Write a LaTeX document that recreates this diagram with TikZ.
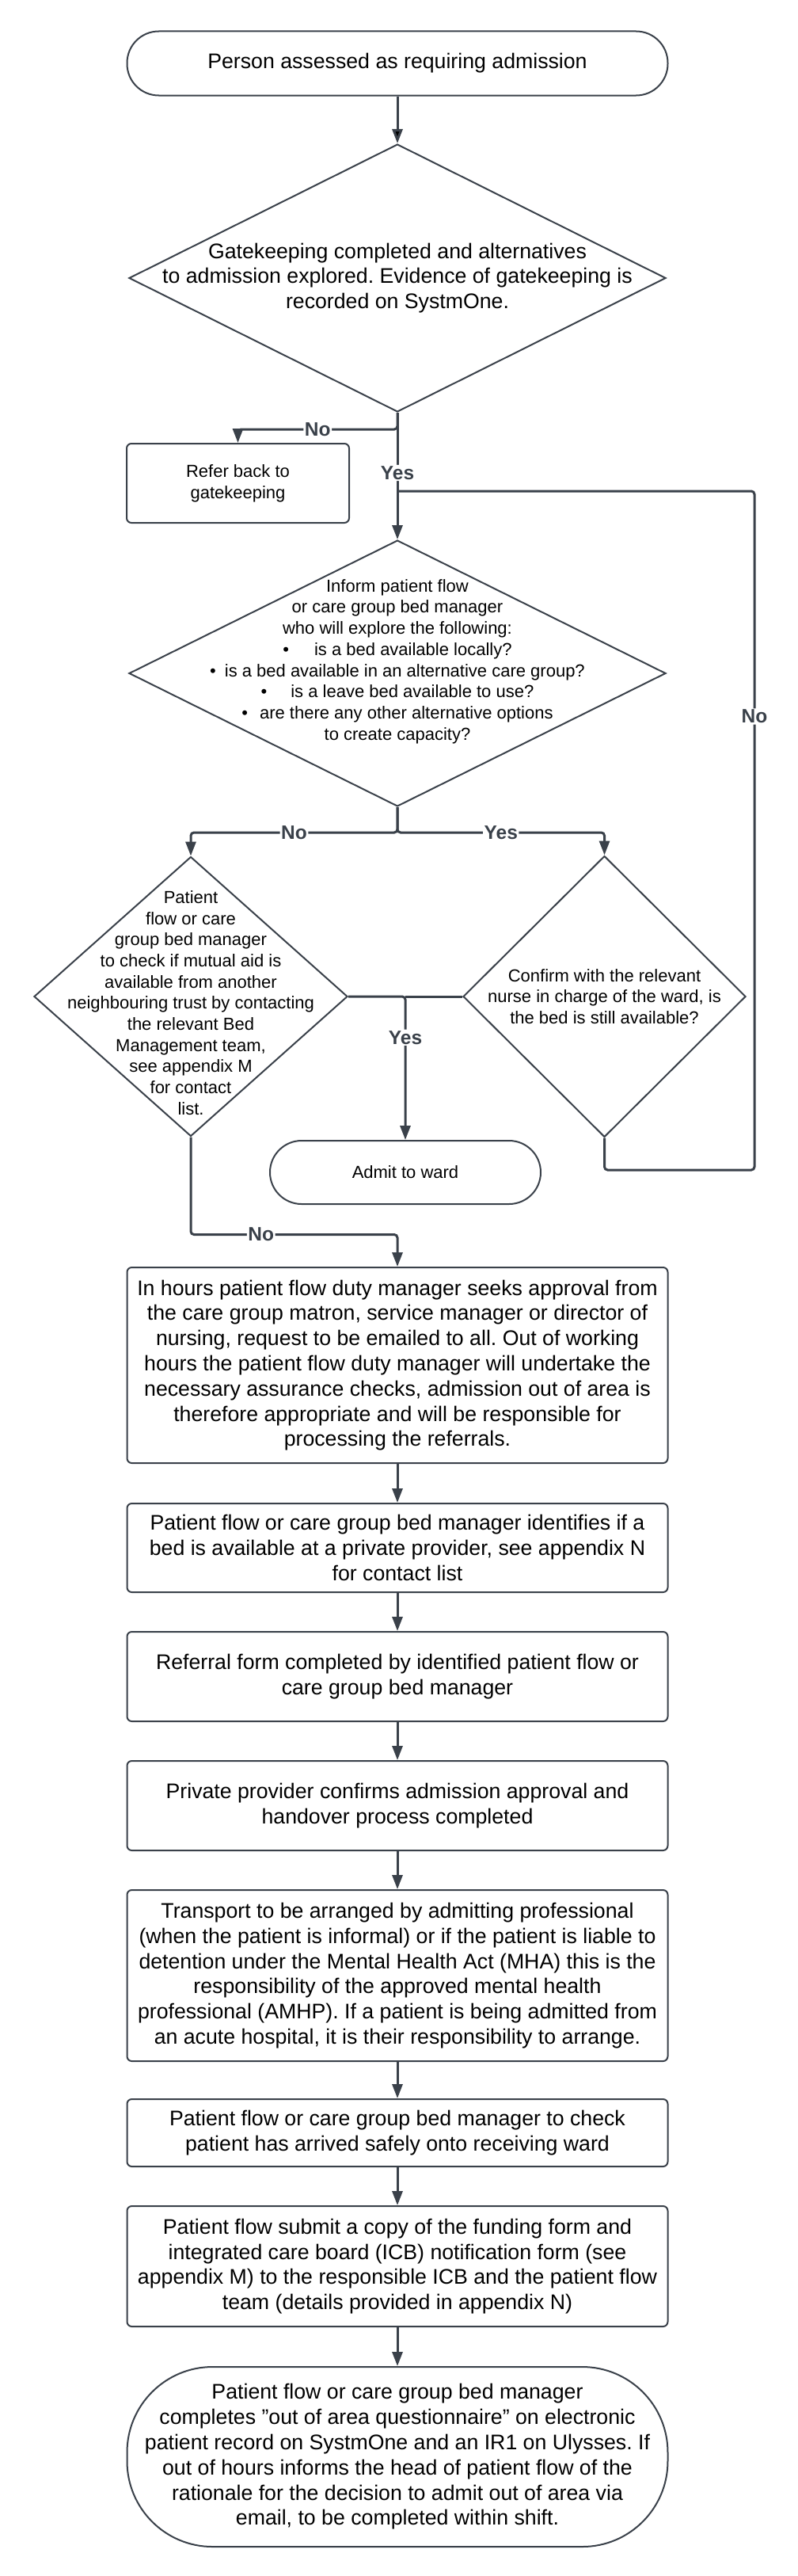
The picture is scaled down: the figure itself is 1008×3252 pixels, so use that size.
\documentclass[tikz,border=0pt]{standalone}
\usepackage{fontspec}
\setmainfont{Liberation Sans}
\usepackage{tikz}
\usetikzlibrary{shapes.geometric}
\usetikzlibrary{positioning}
\usetikzlibrary{arrows.meta}
\definecolor{linegray}{HTML}{3A414A}
\frenchspacing
\newcommand{\bigtxt}{\fontsize{26.7pt}{31.8pt}\selectfont}
\newcommand{\smalltxt}{\fontsize{22pt}{26.7pt}\selectfont}
\newcommand{\lbltxt}{\fontsize{24.5pt}{28pt}\selectfont\bfseries}

\begin{document}
\begin{tikzpicture}[
            x = 1pt, y = -1pt, % pixel grid, y grows downwards
            > = {Triangle[length=18pt,width=13pt]} % arrow head style
        ]

        \tikzstyle{process}=[
            draw = linegray,
            line width = 2pt,
            rounded corners = 6pt,
            minimum width = 683pt,
            align = center,
            font = \bigtxt
        ]
        \tikzstyle{terminal}=[process]
        \tikzstyle{decision}=[
            draw = linegray,
            line width = 2pt,
            diamond,
            inner sep = 0pt
        ]
        \tikzstyle{dtext}=[font=\smalltxt, align=center, inner sep=0pt]
        \tikzstyle{lbl}=[font=\lbltxt, text=linegray, fill=white, inner sep=1.5pt]
        \tikzstyle{link}=[draw=linegray, line width=3pt, rounded corners=4pt]

        \useasboundingbox (0,0) rectangle (1008,3252);

        % admission and gatekeeping
        \node[terminal, minimum height=81pt, rounded corners=40pt] (S) at (502,80) {Person assessed as requiring admission};
        \node[decision, minimum width=678pt, minimum height=338pt, node distance=271pt,
              label={[dtext, font=\bigtxt]center:{Gatekeeping completed and alternatives\\to admission explored. Evidence of gatekeeping is\\recorded on SystmOne.}}] (G) [below of=S] {};
        \node[process, font=\smalltxt, minimum width=281pt, minimum height=100pt] (R) at (300.5,610) {Refer back to\\gatekeeping};

        \path[link,->] (S) edge (G);
        \draw[link,->] (G.south) -- ++(0,21) -| node[lbl, pos=0.25] {No} (R.north);

        % bed search
        \node[decision, minimum width=678pt, minimum height=336pt, node distance=499pt,
              label={[dtext, yshift=15pt]center:{Inform patient flow\\or care group bed manager\\who will explore the following:\\\textbullet\hspace{32pt}is a bed available locally?\\\textbullet\hspace{11pt}is a bed available in an alternative care group?\\\textbullet\hspace{30pt}is a leave bed available to use?\\\textbullet\hspace{15pt}are there any other alternative options\\to create capacity?}}] (I) [below of=G] {};

        \draw[link,->] (G) -- node[lbl, pos=0.475] {Yes} (I);

        % mutual aid / confirm ward
        \node[decision, minimum width=396pt, minimum height=353pt,
              label={[dtext, yshift=-8pt]center:{Patient\\flow or care\\group bed manager\\to check if mutual aid is\\available from another\\neighbouring trust by contacting\\the relevant Bed\\Management team,\\see appendix M\\for contact\\list.}}] (M) at (241,1258) {};
        \node[decision, minimum width=357pt, minimum height=355pt, node distance=522.5pt,
              label={[dtext]center:{Confirm with the relevant\\nurse in charge of the ward, is\\the bed is still available?}}] (C) [right of=M] {};
        \node[terminal, font=\smalltxt, minimum width=342pt, minimum height=80pt, rounded corners=40pt] (W) at (512,1480) {Admit to ward};

        \draw[link,->] (I.south) -- ++(0,32) -| node[lbl, pos=0.25] {No} (M.north);
        \draw[link,->] (I.south) -- ++(0,32) -| node[lbl, pos=0.25] {Yes} (C.north);
        \draw[link,->] (M.east) -| node[lbl, pos=0.643] {Yes} (W.north);
        \draw[link] (C.west) -- (C.west -| W.north);

        % back to the bed search
        \coordinate (loopcorner) at (953,1477);
        \coordinate (loopend) at (502,620);
        \draw[link] (C.south) |- (loopcorner) |- node[lbl, pos=0.334] {No} (loopend);

        % out of area
        \node[process, minimum height=247pt] (H) at (502,1723.5) {In hours patient flow duty manager seeks approval from\\the care group matron, service manager or director of\\nursing, request to be emailed to all. Out of working\\hours the patient flow duty manager will undertake the\\necessary assurance checks, admission out of area is\\therefore appropriate and will be responsible for\\processing the referrals.};
        \node[process, minimum height=112pt, node distance=230.5pt] (P) [below of=H] {Patient flow or care group bed manager identifies if a\\bed is available at a private provider, see appendix N\\for contact list};
        \node[process, minimum height=113pt, node distance=162.5pt] (F) [below of=P] {Referral form completed by identified patient flow or\\care group bed manager};
        \node[process, minimum height=113pt, node distance=163pt] (A) [below of=F] {Private provider confirms admission approval and\\handover process completed};
        \node[process, minimum height=216pt, node distance=214.5pt] (T) [below of=A] {Transport to be arranged by admitting professional\\(when the patient is informal) or if the patient is liable to\\detention under the Mental Health Act (MHA) this is the\\responsibility of the approved mental health\\professional (AMHP). If a patient is being admitted from\\an acute hospital, it is their responsibility to arrange.};
        \node[process, minimum height=85pt, node distance=198.5pt] (K) [below of=T] {Patient flow or care group bed manager to check\\patient has arrived safely onto receiving ward};
        \node[process, minimum height=152pt, node distance=168.5pt] (Q) [below of=K] {Patient flow submit a copy of the funding form and\\integrated care board (ICB) notification form (see\\appendix M) to the responsible ICB and the patient flow\\team (details provided in appendix N)};
        \node[terminal, minimum height=227pt, rounded corners=108pt, node distance=240.5pt] (E) [below of=Q] {Patient flow or care group bed manager\\completes "out of area questionnaire" on electronic\\patient record on SystmOne and an IR1 on Ulysses. If\\out of hours informs the head of patient flow of the\\rationale for the decision to admit out of area via\\email, to be completed within shift.};

        \draw[link,->] (M.south) -- ++(0,123) -| node[lbl, pos=0.17] {No} (H.north);
        \draw[link,->] (H) -- (P);
        \draw[link,->] (P) -- (F);
        \draw[link,->] (F) -- (A);
        \draw[link,->] (A) -- (T);
        \draw[link,->] (T) -- (K);
        \draw[link,->] (K) -- (Q);
        \draw[link,->] (Q) -- (E);

\end{tikzpicture}
\end{document}
